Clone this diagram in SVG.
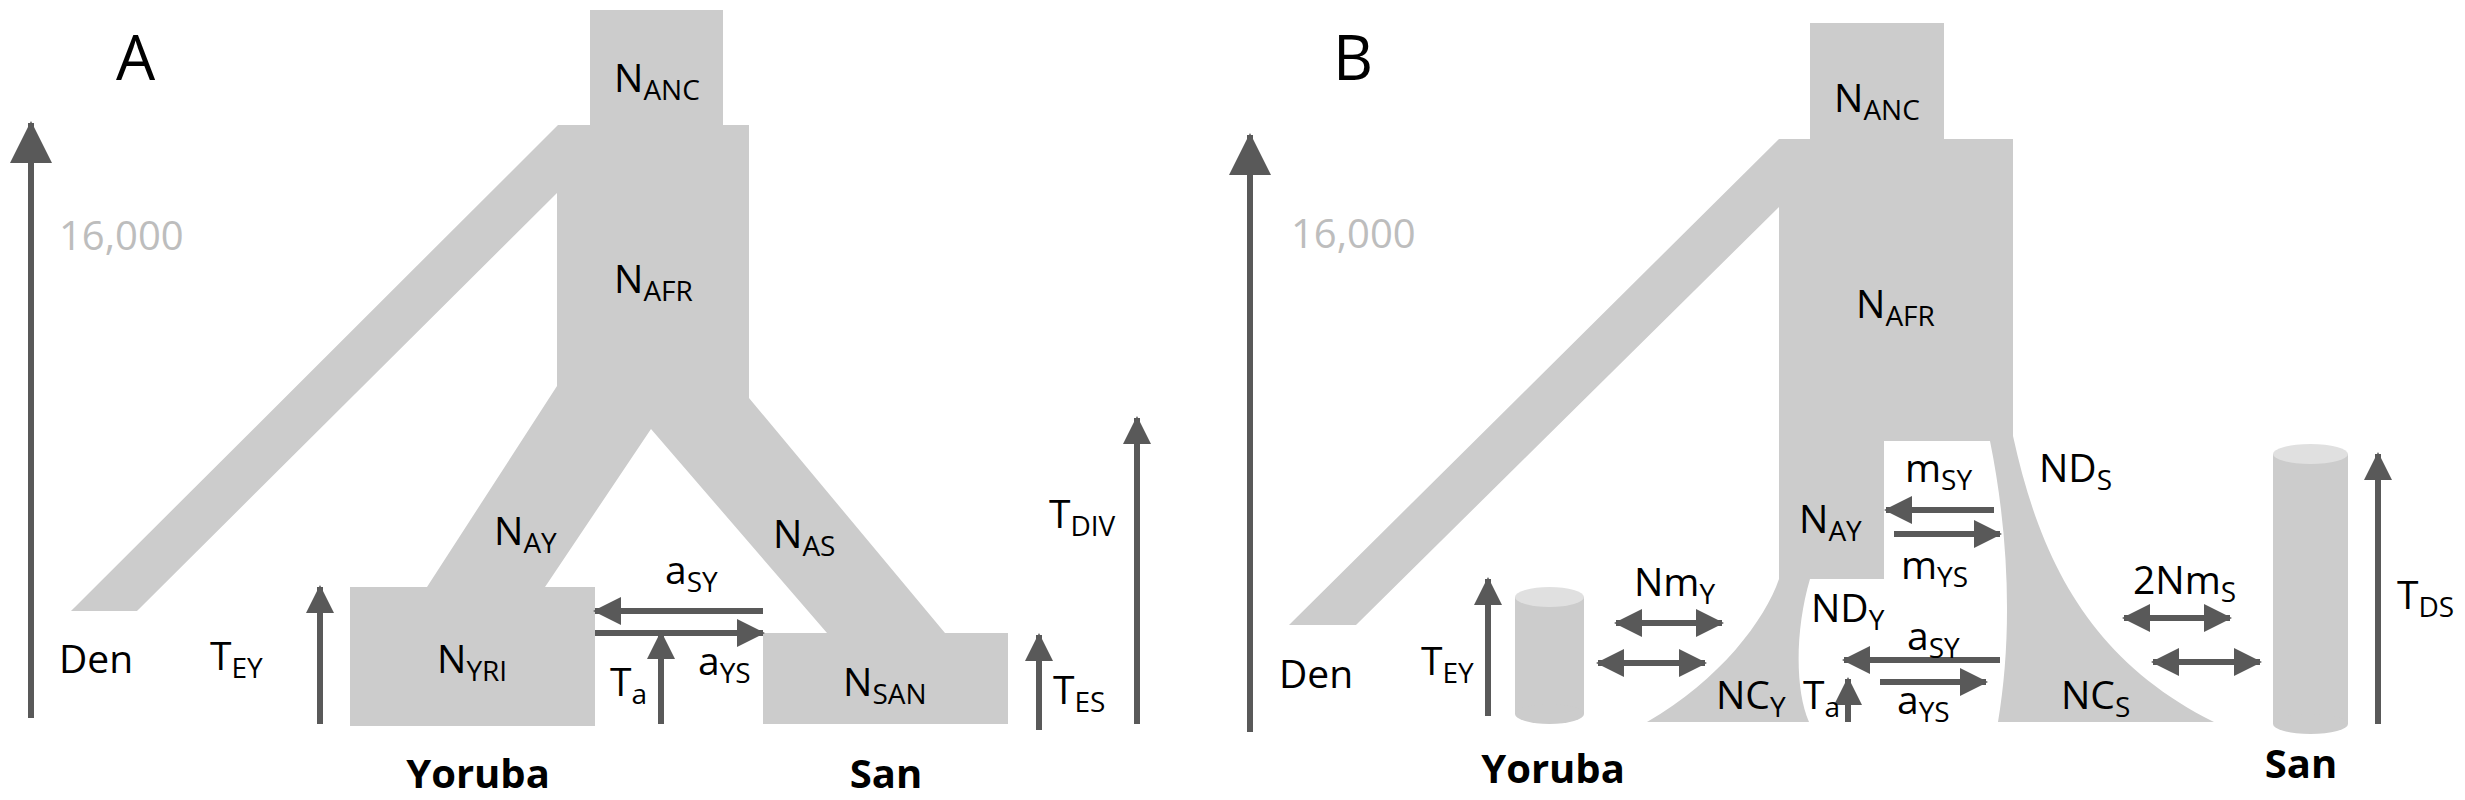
<svg xmlns="http://www.w3.org/2000/svg" width="2465" height="800" viewBox="0 0 2465 800">
<style>
.s{fill:#cccccc}
.a{stroke:#595959;stroke-width:6;fill:none}
.t{font-family:"Open Sans","Liberation Sans",sans-serif;font-size:39px;fill:#000}
.b{font-family:"Open Sans","Liberation Sans",sans-serif;font-size:40px;font-weight:bold;fill:#000}
.g{font-family:"Open Sans","Liberation Sans",sans-serif;font-size:40px;fill:#bdbdbd}
.L{font-family:"Open Sans","Liberation Sans",sans-serif;font-size:62px;fill:#000}
</style>
<defs>
<marker id="h" markerUnits="userSpaceOnUse" viewBox="0 0 28 28" markerWidth="28" markerHeight="28" refX="26" refY="14" orient="auto-start-reverse"><path d="M0,0 L28,14 L0,28 Z" fill="#595959"/></marker>
<marker id="H" markerUnits="userSpaceOnUse" viewBox="0 0 42 42" markerWidth="42" markerHeight="42" refX="40" refY="21" orient="auto"><path d="M0,0 L42,21 L0,42 Z" fill="#595959"/></marker>
</defs>
<g id="panelA-shapes">
<g id="A-NANC"><rect class="s" x="590" y="10" width="133" height="116"/><text class="t" x="614" y="92">N<tspan font-size="28" dy="8">ANC</tspan></text></g>
<g id="A-NAFR"><path class="s" d="M558,125 L749,125 L749,398 L945,633 L827,633 L651,429 L545,587 L427,587 L557,386 L557,193 L137,611 L71,611 Z"/><text class="t" x="614" y="293">N<tspan font-size="28" dy="8">AFR</tspan></text></g>
<g id="A-NAY"><text class="t" x="494" y="545">N<tspan font-size="28" dy="8">AY</tspan></text></g>
<g id="A-NAS"><text class="t" x="773" y="548">N<tspan font-size="28" dy="8">AS</tspan></text></g>
<g id="A-NYRI"><rect class="s" x="350" y="587" width="245" height="139"/><text class="t" x="437" y="673">N<tspan font-size="28" dy="8">YRI</tspan></text></g>
<g id="A-NSAN"><rect class="s" x="763" y="633" width="245" height="91"/><text class="t" x="843" y="696">N<tspan font-size="28" dy="8">SAN</tspan></text></g>
</g>
<g id="panelB-shapes">
<g id="B-NANC"><rect class="s" x="1810" y="23" width="134" height="117"/><text class="t" x="1834" y="112">N<tspan font-size="28" dy="8">ANC</tspan></text></g>
<g id="B-NAFR"><path class="s" d="M1779,139 L2013,139 L2013,436 C2040,560 2090,660 2214,722 L1998,722 C2012,640 2010,540 1990,441 L1884,441 L1884,579 L1810,579 C1795,630 1795,690 1809,722 L1647,722 C1720,680 1765,620 1779,579 L1779,207 L1356,625 L1289,625 Z"/><text class="t" x="1856" y="318">N<tspan font-size="28" dy="8">AFR</tspan></text></g>
<g id="B-cylY"><rect class="s" x="1515" y="597" width="69" height="117"/><ellipse class="s" cx="1549.5" cy="714" rx="34.5" ry="10"/><ellipse cx="1549.5" cy="597" rx="34.5" ry="10" fill="#e0e0e0"/></g>
<g id="B-cylS"><rect class="s" x="2273" y="454" width="75" height="270"/><ellipse class="s" cx="2310.5" cy="724" rx="37.5" ry="10"/><ellipse cx="2310.5" cy="454" rx="37.5" ry="10" fill="#e0e0e0"/></g>
</g>
<g id="connectors">
<line class="a" x1="31" y1="718" x2="31" y2="123" marker-end="url(#H)"/>
<line class="a" x1="763" y1="611" x2="595" y2="611" marker-end="url(#h)"/>
<line class="a" x1="595" y1="633" x2="763" y2="633" marker-end="url(#h)"/>
<line class="a" x1="661" y1="724" x2="661" y2="633" marker-end="url(#h)"/>
<line class="a" x1="320" y1="724" x2="320" y2="587" marker-end="url(#h)"/>
<line class="a" x1="1039" y1="730" x2="1039" y2="635" marker-end="url(#h)"/>
<line class="a" x1="1137" y1="724" x2="1137" y2="418" marker-end="url(#h)"/>
<line class="a" x1="1250" y1="732" x2="1250" y2="135" marker-end="url(#H)"/>
<line class="a" x1="1616" y1="623" x2="1722" y2="623" marker-start="url(#h)" marker-end="url(#h)"/>
<line class="a" x1="1598" y1="663" x2="1705" y2="663" marker-start="url(#h)" marker-end="url(#h)"/>
<line class="a" x1="2124" y1="618" x2="2230" y2="618" marker-start="url(#h)" marker-end="url(#h)"/>
<line class="a" x1="2153" y1="662" x2="2260" y2="662" marker-start="url(#h)" marker-end="url(#h)"/>
<line class="a" x1="1994" y1="510" x2="1886" y2="510" marker-end="url(#h)"/>
<line class="a" x1="1894" y1="534" x2="2000" y2="534" marker-end="url(#h)"/>
<line class="a" x1="2000" y1="660" x2="1844" y2="660" marker-end="url(#h)"/>
<line class="a" x1="1880" y1="682" x2="1986" y2="682" marker-end="url(#h)"/>
<line class="a" x1="1848" y1="722" x2="1848" y2="679" marker-end="url(#h)"/>
<line class="a" x1="1488" y1="716" x2="1488" y2="579" marker-end="url(#h)"/>
<line class="a" x1="2378" y1="724" x2="2378" y2="454" marker-end="url(#h)"/>
</g>
<g id="labels">
<text class="L" x="116" y="80">A</text>
<text class="L" x="1333" y="80">B</text>
<text class="g" x="59" y="250">16,000</text>
<text class="g" x="1291" y="248">16,000</text>
<text class="t" x="665" y="584">a<tspan font-size="28" dy="8">SY</tspan></text>
<text class="t" x="698" y="675">a<tspan font-size="28" dy="8">YS</tspan></text>
<text class="t" x="610" y="696">T<tspan font-size="28" dy="8">a</tspan></text>
<text class="t" x="210" y="670">T<tspan font-size="28" dy="8">EY</tspan></text>
<text class="t" x="1053" y="704">T<tspan font-size="28" dy="8">ES</tspan></text>
<text class="t" x="1049" y="528">T<tspan font-size="28" dy="8">DIV</tspan></text>
<text class="t" x="59" y="673">Den</text>
<text class="b" x="478" y="788" text-anchor="middle">Yoruba</text>
<text class="b" x="886" y="788" text-anchor="middle">San</text>
<text class="t" x="1905" y="482">m<tspan font-size="28" dy="8">SY</tspan></text>
<text class="t" x="2039" y="482">ND<tspan font-size="28" dy="8">S</tspan></text>
<text class="t" x="1799" y="533">N<tspan font-size="28" dy="8">AY</tspan></text>
<text class="t" x="1901" y="579">m<tspan font-size="28" dy="8">YS</tspan></text>
<text class="t" x="1634" y="596">Nm<tspan font-size="28" dy="8">Y</tspan></text>
<text class="t" x="2133" y="594">2Nm<tspan font-size="28" dy="8">S</tspan></text>
<text class="t" x="2397" y="609">T<tspan font-size="28" dy="8">DS</tspan></text>
<text class="t" x="1811" y="622">ND<tspan font-size="28" dy="8">Y</tspan></text>
<text class="t" x="1907" y="650">a<tspan font-size="28" dy="8">SY</tspan></text>
<text class="t" x="1421" y="675">T<tspan font-size="28" dy="8">EY</tspan></text>
<text class="t" x="1279" y="688">Den</text>
<text class="t" x="1716" y="709">NC<tspan font-size="28" dy="8">Y</tspan></text>
<text class="t" x="1803" y="709">T<tspan font-size="28" dy="8">a</tspan></text>
<text class="t" x="1897" y="714">a<tspan font-size="28" dy="8">YS</tspan></text>
<text class="t" x="2061" y="709">NC<tspan font-size="28" dy="8">S</tspan></text>
<text class="b" x="1553" y="783" text-anchor="middle">Yoruba</text>
<text class="b" x="2301" y="778" text-anchor="middle">San</text>
</g>
</svg>
